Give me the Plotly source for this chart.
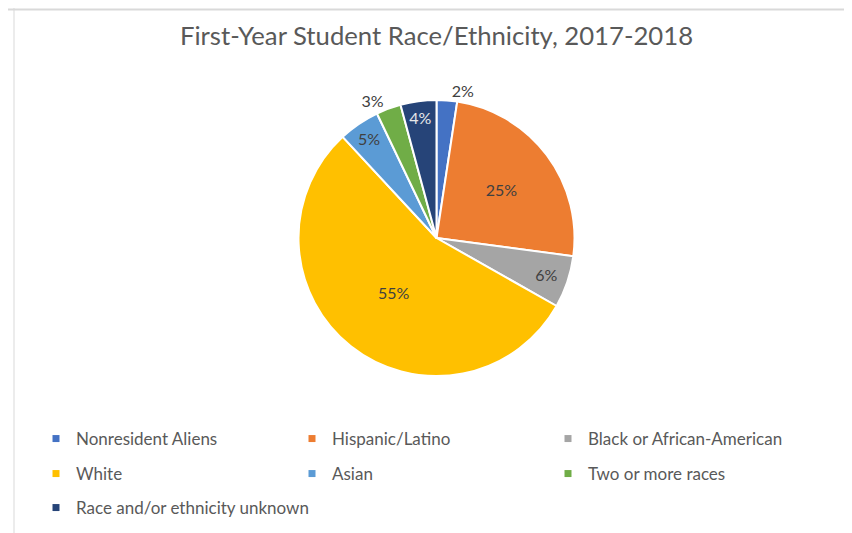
import plotly.graph_objects as go

categories = ["Nonresident Aliens", "Hispanic/Latino", "Black or African-American",
              "White", "Asian", "Two or more races", "Race and/or ethnicity unknown"]
values = [2.4, 24.7, 6.1, 54.9, 4.8, 2.9, 4.2]
colors = ["#4472C4", "#ED7D31", "#A5A5A5", "#FFC000", "#5B9BD5", "#70AD47", "#264478"]
text_positions = ["outside", "inside", "inside", "inside", "inside", "outside", "inside"]
text_colors = ["#404040", "#404040", "#404040", "#404040", "#404040", "#404040", "#E8E8E8"]
legend_rows = ["legend", "legend", "legend", "legend2", "legend2", "legend2", "legend3"]

FONT = "Lato"
W, H = 852, 533

fig = go.Figure()
fig.add_trace(go.Pie(
    labels=categories, values=values, sort=False, direction="clockwise", rotation=0,
    marker=dict(colors=colors, line=dict(color="white", width=2)),
    texttemplate="%{percent:.0%}", textposition=text_positions,
    textfont=dict(family=FONT, size=16, color=text_colors),
    insidetextorientation="horizontal",
    showlegend=False, hoverinfo="label+percent",
    domain=dict(x=[290.5 / W, 566.5 / W], y=[1 - 368 / H, 1 - 92 / H]),
))

for cat, col, lg in zip(categories, colors, legend_rows):
    fig.add_trace(go.Scatter(
        x=[None], y=[None], mode="markers", name=cat,
        marker=dict(symbol="square", size=7, color=col),
        legend=lg, showlegend=True, hoverinfo="skip",
    ))

legend_common = dict(orientation="h", entrywidthmode="pixels",
                     font=dict(family=FONT, size=17, color="#595959"),
                     bgcolor="rgba(0,0,0,0)", xanchor="left", yanchor="middle",
                     itemsizing="trace")
x0 = 28 / W
fig.update_layout(
    width=W, height=H,
    margin=dict(l=0, r=0, t=0, b=0),
    paper_bgcolor="white", plot_bgcolor="white",
    title=dict(text="First-Year Student Race/Ethnicity, 2017-2018",
               font=dict(family=FONT, size=25.7, color="#595959"),
               x=428.5 / W, xanchor="center", y=1 - 28 / H, yanchor="middle"),
    xaxis=dict(visible=False), yaxis=dict(visible=False),
    legend=dict(**legend_common, entrywidth=211, x=x0, y=1 - 431 / H),
    legend2=dict(**legend_common, entrywidth=211, x=x0, y=1 - 466 / H),
    legend3=dict(**legend_common, entrywidth=400, x=x0, y=1 - 500 / H),
    shapes=[
        dict(type="line", xref="paper", yref="paper", x0=0, x1=1, y0=1 - 1.5 / H, y1=1 - 1.5 / H,
             line=dict(color="#D9D9D9", width=2)),
        dict(type="line", xref="paper", yref="paper", x0=6 / W, x1=6 / W, y0=0, y1=1,
             line=dict(color="#D9D9D9", width=1)),
    ],
)

fig.write_html("out.html")
